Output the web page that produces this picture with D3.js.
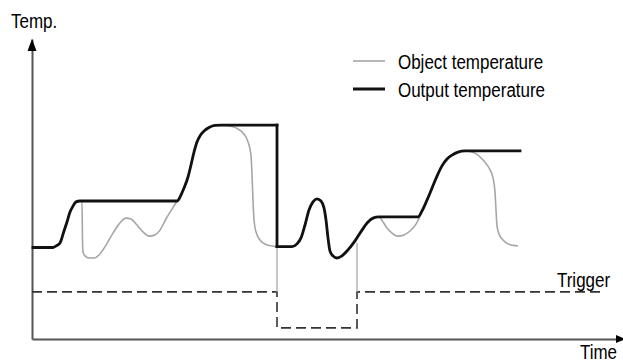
<!DOCTYPE html>
<html>
<head>
<meta charset="utf-8">
<script src="https://cdn.jsdelivr.net/npm/d3@7/dist/d3.min.js"></script>
<style>
  html, body { margin: 0; padding: 0; background: #fff; }
  svg { display: block; }
  text { font-family: "Liberation Sans", Arial, sans-serif; fill: #000; }
</style>
</head>
<body>
<svg id="chart" width="623" height="362"></svg>
<script>
// ---- data (arbitrary time / temperature units) ----
const objectTime = [0.2, 4.2, 5, 5.6, 6.4, 7, 7.6, 8.2, 8.8, 9.6, 10, 10.1, 10.2, 10.6, 11.4, 12.4, 13.4, 14.8, 16.2, 17.6, 18.8, 19.8, 21, 22.2, 23.4, 24.6, 25.6, 26.8, 28, 29,
  29.8, 30.4, 31.2, 31.8, 32.4, 33, 33.6, 34.4, 35.4, 36.6, 38, 39.6, 41, 42.2, 43.2, 43.8, 44, 44.2, 44.4, 44.8, 45.6, 46.8, 48, 49,
  52, 53, 53.8, 54.6, 55.4, 56.2, 57, 57.8, 58.4, 58.8, 59.2, 59.6, 60.2, 61, 62, 63.2, 64.6, 66, 67.2, 68.2, 69.4,
  70.2, 71, 72, 73.2, 74.4, 75.6, 76.8, 77.8, 79, 80, 81, 82, 83, 84, 85.2, 86.6,
  88, 89.2, 90.4, 91.4, 92.2, 92.6, 92.8, 93, 93.4, 94.2, 95.2, 96.2, 97.2];
const objectTemp = [30.5, 30.5, 31.2, 32, 36, 39, 42.3, 44.3, 45.7, 46, 46, 33, 29, 27.7, 27, 27, 28, 31.3, 35.3, 38.7, 40.3, 40, 38, 35.7, 34.3, 34.7, 36.3, 40, 43.3, 46,
  48, 50.3, 54, 58, 62.3, 65.7, 67.7, 69.3, 70.5, 71.2, 71.3, 71, 70.2, 68.7, 65.7, 61.3, 54.7, 46.3, 39.7, 35.7, 33, 31.5, 31, 30.8,
  30.8, 31.7, 33.7, 38, 43, 45.7, 46.7, 46, 43.7, 39.7, 33.7, 29.3, 27.7, 27, 27.7, 29.7, 32.7, 36.3, 39, 40.3, 40.7,
  39, 37, 35.3, 34.3, 34.7, 36, 38.3, 41.7, 46.3, 50.3, 54.3, 57.7, 60, 61.3, 62.3, 62.7,
  62.3, 61.3, 59.3, 57, 53.7, 49, 43, 37.7, 35, 33, 31.7, 31.2, 31];

const outputTime = [0.2, 4.2, 5, 5.6, 6.4, 7, 7.6, 8.2, 8.8, 9.6, 29, 29.8, 30.4, 31.2, 31.8, 32.4, 33, 33.6, 34.4, 35.4, 36.6, 38, 49,
  49, 52, 53, 53.8, 54.6, 55.4, 56.2, 57, 57.8, 58.4, 58.8, 59.2, 59.6, 60.2, 61, 62, 63.2, 64.6, 66, 67.2, 68.2, 69.4, 77.2,
  78, 79, 80, 81, 82, 83, 84, 85.2, 86.6, 97.6];
const outputTemp = [30.5, 30.5, 31.2, 32, 36, 39, 42.3, 44.3, 45.7, 46, 46, 48, 50.3, 54, 58, 62.3, 65.7, 67.7, 69.3, 70.5, 71.2, 71.3, 71.3,
  30.8, 30.8, 31.7, 33.7, 38, 43, 45.7, 46.7, 46, 43.7, 39.7, 33.7, 29.3, 27.7, 27, 27.7, 29.7, 32.7, 36.3, 39, 40.3, 40.7, 40.7,
  42.7, 46.3, 50.3, 54.3, 57.7, 60, 61.3, 62.3, 62.7, 62.7];

const triggerTime  = [0, 49, 49, 65, 65, 113.6];
const triggerLevel = [15.7, 15.7, 3.7, 3.7, 15.7, 15.7];

// thin marker lines from the curve down to the trigger level
const markerTime = [49, 65];
const markerTop  = [30.8, 32];

const seriesLabels = ["Object temperature", "Output temperature"];
const axisLabels = { y: "Temp.", x: "Time", trigger: "Trigger" };

// ---- layout ----
const svg = d3.select("#chart");
const x = d3.scaleLinear().domain([0, 118]).range([32, 622]);
const y = d3.scaleLinear().domain([0, 100]).range([339, 39]);

const zip = (a, b) => a.map((v, i) => [v, b[i]]);
const objectData = zip(objectTime, objectTemp);
const outputData = zip(outputTime, outputTemp);
const triggerData = zip(triggerTime, triggerLevel);

// split the output series wherever time repeats (vertical jump)
const outputPieces = [];
let cur = [outputData[0]];
for (let i = 1; i < outputData.length; i++) {
  if (outputData[i][0] === outputData[i - 1][0]) {
    outputPieces.push(cur);
    outputPieces.push([outputData[i - 1], outputData[i]]);
    cur = [outputData[i]];
  } else cur.push(outputData[i]);
}
outputPieces.push(cur);

const smooth = d3.line().x(d => x(d[0])).y(d => y(d[1])).curve(d3.curveMonotoneX);
const straight = d3.line().x(d => x(d[0])).y(d => y(d[1]));

// axes (no ticks)
const axisColor = "#555";
const gx = svg.append("g").attr("transform", `translate(0,${y(0)})`)
  .call(d3.axisBottom(x).tickValues([]).tickSizeOuter(0));
const gy = svg.append("g").attr("transform", `translate(${x(0)},0)`)
  .call(d3.axisLeft(y).tickValues([]).tickSizeOuter(0));
[gx, gy].forEach(g => g.select(".domain").attr("stroke", axisColor).attr("stroke-width", 2));

// arrowheads
const yTop = y(100), xEnd = x(118);
svg.append("path")
  .attr("d", `M${x(0)},${yTop} L${x(0) - 4.5},${yTop + 12} L${x(0) + 4.5},${yTop + 12} Z`)
  .attr("fill", "#000");
svg.append("path")
  .attr("d", `M${xEnd + 3},${y(0)} L${xEnd - 6},${y(0) - 4} L${xEnd - 6},${y(0) + 4} Z`)
  .attr("fill", "#000");

// trigger dashed line
svg.append("path")
  .attr("d", straight(triggerData))
  .attr("fill", "none").attr("stroke", "#333").attr("stroke-width", 1.6)
  .attr("stroke-dasharray", "10,5");

// marker lines
markerTime.forEach((t, i) => {
  svg.append("line")
    .attr("x1", x(t)).attr("x2", x(t))
    .attr("y1", y(markerTop[i])).attr("y2", y(triggerLevel[0]))
    .attr("stroke", "#aaa").attr("stroke-width", 1.3);
});

// object temperature (gray)
svg.append("path")
  .attr("d", smooth(objectData))
  .attr("fill", "none").attr("stroke", "#a6a6a6").attr("stroke-width", 1.6)
  .attr("stroke-linejoin", "round");

// output temperature (black)
outputPieces.forEach(p => {
  svg.append("path")
    .attr("d", (p.length === 2 && p[0][0] === p[1][0]) ? straight(p) : smooth(p))
    .attr("fill", "none").attr("stroke", "#111").attr("stroke-width", 2.8)
    .attr("stroke-linejoin", "round").attr("stroke-linecap", "square");
});

// texts
function label(txt, px, py) {
  svg.append("text")
    .attr("transform", `translate(${px},${py}) scale(0.87,1)`)
    .attr("font-size", 19.5)
    .text(txt);
}
label(axisLabels.y, 11, 28);
label(axisLabels.x, 580, 359);
label(axisLabels.trigger, 557, 287);

// legend
const legendY = [61, 89];
const legendColor = ["#a6a6a6", "#111"];
const legendWidth = [1.6, 3];
seriesLabels.forEach((s, i) => {
  svg.append("line")
    .attr("x1", 353).attr("x2", 385)
    .attr("y1", legendY[i]).attr("y2", legendY[i])
    .attr("stroke", legendColor[i]).attr("stroke-width", legendWidth[i]);
  label(s, 398, legendY[i] + 7.5);
});
</script>
</body>
</html>
